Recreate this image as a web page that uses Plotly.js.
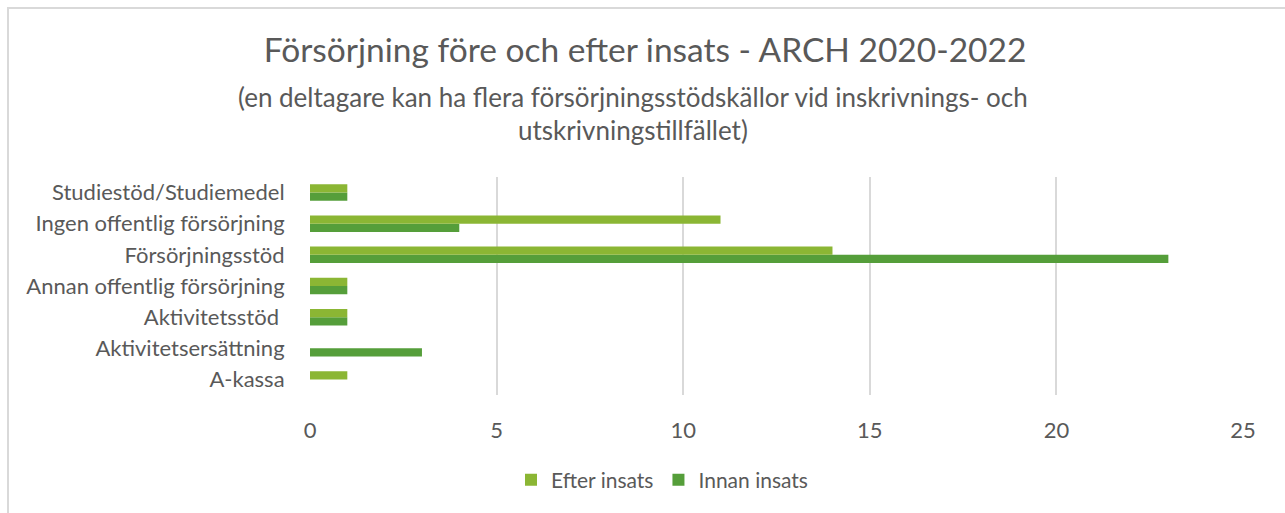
<!DOCTYPE html>
<html>
<head>
<meta charset="utf-8">
<script src="https://cdn.plot.ly/plotly-3.0.1.min.js"></script>
<style>
  html, body { margin: 0; padding: 0; background: #fff; overflow: hidden; }
  #chart { width: 1285px; height: 513px; position: relative; }
  #frame { position: absolute; left: 7px; top: 7px; width: 1400px; height: 600px; border: 2px solid #d9d9d9; pointer-events: none; }
</style>
</head>
<body>
<div id="frame"></div>
<div id="chart"></div>
<script>
const categories = ["A-kassa", "Aktivitetsersättning", "Aktivitetsstöd ", "Annan offentlig försörjning", "Försörjningsstöd", "Ingen offentlig försörjning", "Studiestöd/Studiemedel"];
const efterInsats = [1, 0, 1, 1, 14, 11, 1];
const innanInsats = [0, 3, 1, 1, 23, 4, 1];
const xTicks = [0, 5, 10, 15, 20, 25];

const FONT = "Lato, 'Open Sans', sans-serif";
const GREY = "#595959";

const traces = [
  { type: "bar", orientation: "h", name: "Innan insats", y: categories, x: innanInsats,
    marker: { color: "#559E3A" }, hoverinfo: "x+y" },
  { type: "bar", orientation: "h", name: "Efter insats", y: categories, x: efterInsats,
    marker: { color: "#8BB634" }, hoverinfo: "x+y" }
];

const layout = {
  width: 1285, height: 513,
  paper_bgcolor: "rgba(0,0,0,0)", plot_bgcolor: "rgba(0,0,0,0)",
  margin: { l: 310, r: 42, t: 177, b: 118 },
  font: { family: FONT, color: GREY, size: 21 },
  title: { text: "Försörjning före och efter insats - ARCH 2020-2022", xref: "container", x: 0.502, xanchor: "center",
           yref: "container", y: 1 - 50/513, yanchor: "middle", font: { family: FONT, size: 33.5, color: GREY } },
  annotations: [
    { text: "(en deltagare kan ha flera försörjningsstödskällor vid inskrivnings- och", xref: "paper", yref: "paper",
      x: (633 - 310) / 933, y: 1 + (177 - 97) / 218, xanchor: "center", yanchor: "middle", showarrow: false,
      font: { family: FONT, size: 26, color: GREY } },
    { text: "utskrivningstillfället)", xref: "paper", yref: "paper",
      x: (633 - 310) / 933, y: 1 + (177 - 130) / 218, xanchor: "center", yanchor: "middle", showarrow: false,
      font: { family: FONT, size: 26, color: GREY } }
  ],
  barmode: "group", bargap: 0.47, bargroupgap: 0,
  xaxis: { range: [0, 25], tickvals: xTicks, ticktext: xTicks.map(String), showgrid: true, gridcolor: "#d9d9d9", gridwidth: 2,
           zeroline: false, showline: false, ticks: "outside", ticklen: 16, tickcolor: "rgba(0,0,0,0)",
           tickfont: { family: FONT, size: 22, color: GREY }, fixedrange: true },
  yaxis: { type: "category", categoryorder: "array", categoryarray: categories, showgrid: false, zeroline: false,
           showline: false, ticks: "outside", ticklen: 20, tickcolor: "rgba(0,0,0,0)",
           tickfont: { family: FONT, size: 22, color: GREY }, fixedrange: true },
  showlegend: true,
  legend: { orientation: "h", traceorder: "reversed", xref: "container", x: 662/1285, xanchor: "center", yref: "container", y: 1 - 480/513, yanchor: "middle",
            font: { family: FONT, size: 21, color: GREY }, itemwidth: 30 }
};

Plotly.newPlot("chart", traces, layout, { displayModeBar: false, staticPlot: true });
</script>
</body>
</html>
